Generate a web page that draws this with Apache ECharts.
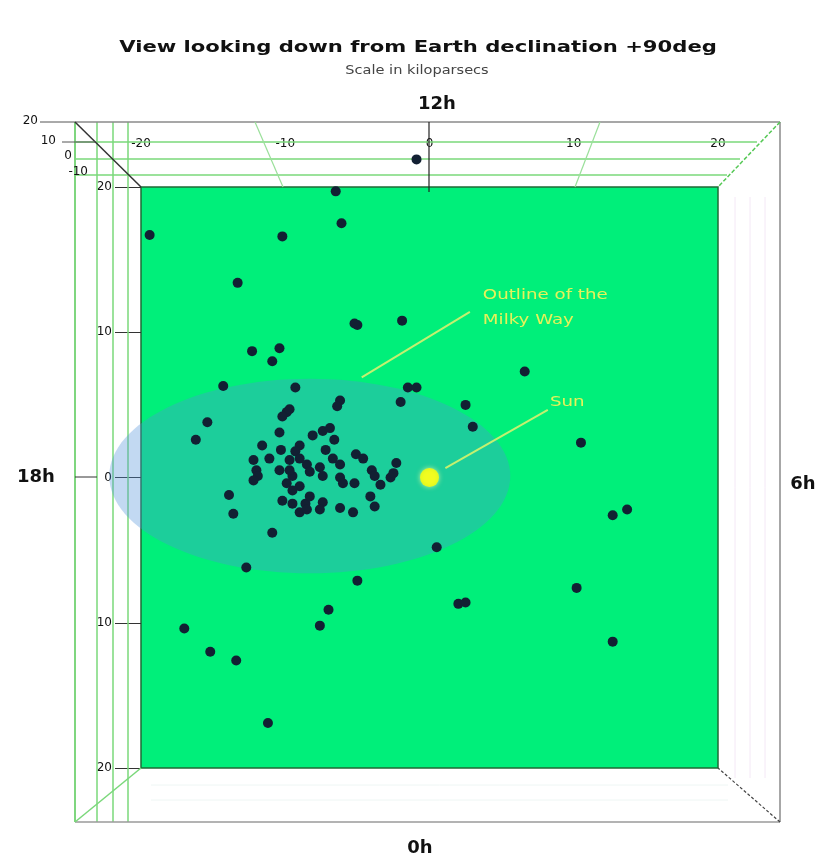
<!DOCTYPE html>
<html>
<head>
<meta charset="utf-8">
<script src="https://cdn.jsdelivr.net/npm/echarts@6/dist/echarts.min.js"></script>
<style>html,body{margin:0;padding:0;background:#fff}#c{width:834px;height:868px}</style>
</head>
<body>
<div id="c"></div>
<script>
// ---- data (kiloparsecs) ----
const outerClusters = [
  [-19.4,16.7],[-10.2,16.6],[-6.5,19.7],[-6.1,17.5],[-0.9,21.9],[-13.3,13.4],[-5.0,10.5],[-5.2,10.6],
  [-1.9,10.8],[-12.3,8.7],[-10.4,8.9],[-10.9,8.0],[-1.5,6.2],[-0.9,6.2],[-2.0,5.2],[6.6,7.3],
  [-14.3,6.3],[-9.3,6.2],[2.5,5.0],[3.0,3.5],[10.5,2.4],[-15.4,3.8],[-16.2,2.6],[12.7,-2.6],
  [13.7,-2.2],[0.5,-4.8],[-12.7,-6.2],[-5.0,-7.1],[10.2,-7.6],[-7.0,-9.1],[-7.6,-10.2],[2.0,-8.7],
  [2.5,-8.6],[-17.0,-10.4],[-15.2,-12.0],[-13.4,-12.6],[12.7,-11.3],[-11.2,-16.9]
];
const coreClusters = [
  [-9.9,4.5],[-9.7,4.7],[-10.2,4.2],[-6.2,5.3],[-6.4,4.9],[-10.4,3.1],[-8.1,2.9],[-7.4,3.2],
  [-6.9,3.4],[-6.6,2.6],[-11.6,2.2],[-10.3,1.9],[-9.0,2.2],[-9.3,1.8],[-7.2,1.9],[-12.2,1.2],
  [-11.1,1.3],[-9.7,1.2],[-8.5,0.9],[-9.0,1.3],[-6.7,1.3],[-6.2,0.9],[-5.1,1.6],[-4.6,1.3],
  [-4.0,0.5],[-2.3,1.0],[-12.0,0.5],[-11.9,0.1],[-10.4,0.5],[-9.5,0.1],[-9.7,0.5],[-8.3,0.4],
  [-7.6,0.7],[-7.4,0.1],[-6.2,0.0],[-6.0,-0.4],[-5.2,-0.4],[-3.8,0.1],[-3.4,-0.5],[-2.7,0.0],
  [-2.5,0.3],[-12.2,-0.2],[-9.9,-0.4],[-9.0,-0.6],[-9.5,-0.9],[-13.9,-1.2],[-10.2,-1.6],[-9.5,-1.8],
  [-8.6,-1.8],[-8.3,-1.3],[-7.4,-1.7],[-7.6,-2.2],[-6.2,-2.1],[-5.3,-2.4],[-4.1,-1.3],[-3.8,-2.0],
  [-13.6,-2.5],[-9.0,-2.4],[-8.5,-2.2],[-10.9,-3.8]
];
const sunPos = [0, 0];
const galaxyOutline = [-8.3, 0.1, 13.9, 6.7]; // centre x, centre y, semi-axis x, semi-axis y
const sunLeader = [[1.1, 0.65], [8.2, 4.65]];
const galaxyLeader = [[-4.7, 6.9], [2.8, 11.4]];
const sunLabelPos = [8.35, 5.15];
const galaxyLabelPos = [3.7, 11.7];
const axisMin = -20, axisMax = 20, axisStep = 10;
const zTickLabels = ['20', '10', '0', '-10'];

// ---- chart ----
const chart = echarts.init(document.getElementById('c'));
const FONT = 'DejaVu Sans';
const GL = 141, GR = 718, GT = 187, GB = 768;
const OL = 75, OR = 780, OT = 122, OB = 822;

function line(x1,y1,x2,y2,color,w,dash){
  return {type:'line', silent:true, z:1, shape:{x1,y1,x2,y2},
    style:{stroke:color, lineWidth:w||1, lineDash:dash||null}};
}
function text(x,y,t,opts,sx){
  return {type:'text', silent:true, z:50, x, y, scaleX:sx||1,
    style:Object.assign({text:t, fill:'#111', font:'13px "'+FONT+'"', textAlign:'center', textVerticalAlign:'middle'}, opts||{})};
}

const g = [];
// left wall lines
[97,113,128].forEach(x=>g.push(line(x,OT,x,OB,'#7ad87a',1.5)));
g.push(line(OL,OT,OL,OB,'#55c855',1.5));
// top wall lines
[[142,757],[159,740],[175,727]].forEach(([y,x2])=>g.push(line(OL,y,x2,y,'#7ad87a',1.5)));
// right / bottom wall faint lines
[735,750,765].forEach(x=>g.push(line(x,GT+10,x,GB+10,'#f4e8f6',1)));
[785,800].forEach(y=>g.push(line(GL+10,y,GR+10,y,'#eef6f4',1)));
// outer box
g.push(line(OL,OT,OR,OT,'#8a8a8a',1.5));
g.push(line(OR,OT,OR,OB,'#8a8a8a',1.5));
g.push(line(OL,OB,OR,OB,'#9a9a9a',1.5));
// diagonals
g.push(line(OL,OT,GL,GT,'#333',1.5));
g.push(line(OR,OT,GR,GT,'#55c855',1.5,[4,2]));
g.push(line(OL,OB,GL,GB,'#7ad87a',1.5));
g.push(line(OR,OB,GR,GB,'#444',1.2,[3,2]));
// top axis tick marks (perspective)
g.push(line(429,OT,429,GT+5,'#222',1.2));
g.push(line(255,OT,283,GT,'#9ae09a',1.2));
g.push(line(600,OT,575,GT,'#9ae09a',1.2));
g.push(line(OL,477,97,477,'#333',1));
// z axis tick marks and labels
g.push(line(40,OT,OL,OT,'#555',1));
g.push(line(62,142,95,142,'#555',1));
zTickLabels.forEach((t,i)=>{
  const pos = [[38,121],[56,141],[72,156],[88,172]][i];
  g.push(text(pos[0],pos[1],t,{textAlign:'right', font:'12px "'+FONT+'"'}));
});
// titles
g.push(text(418,48,'View looking down from Earth declination +90deg',{font:'bold 16px "'+FONT+'"'},1.32));
g.push(text(417,71,'Scale in kiloparsecs',{font:'13px "'+FONT+'"', fill:'#444'},1.12));
g.push(text(437,104,'12h',{font:'bold 18px "'+FONT+'"'}));
g.push(text(36,477,'18h',{font:'bold 18px "'+FONT+'"'}));
g.push(text(803,484,'6h',{font:'bold 18px "'+FONT+'"'}));
g.push(text(420,848,'0h',{font:'bold 18px "'+FONT+'"'}));

chart.setOption({
  animation:false,
  backgroundColor:'#ffffff',
  graphic:g,
  grid:{left:GL, right:834-GR, top:GT, bottom:868-GB, show:true,
    backgroundColor:'#00ef7a', borderColor:'#1f6a36', borderWidth:1.5},
  xAxis:[
    {type:'value', min:axisMin, max:axisMax, interval:axisStep, position:'bottom',
     axisLine:{show:false, onZero:false}, axisTick:{show:false}, axisLabel:{show:false}, splitLine:{show:false}},
    {type:'value', min:axisMin, max:axisMax, interval:axisStep, position:'top', offset:35,
     axisLine:{show:false, onZero:false}, axisTick:{show:false}, splitLine:{show:false},
     axisLabel:{margin:2, fontFamily:FONT, fontSize:12, color:'#111'}}
  ],
  yAxis:[
    {type:'value', min:axisMin, max:axisMax, interval:axisStep, position:'left',
     axisLine:{show:false, onZero:false}, splitLine:{show:false},
     axisTick:{show:true, length:26, lineStyle:{color:'#333', width:1}},
     axisLabel:{margin:29, fontFamily:FONT, fontSize:12, color:'#111', formatter:v=>String(Math.abs(v))}}
  ],
  series:[
    {type:'custom', name:'Outline of the Milky Way', coordinateSystem:'cartesian2d', clip:false, z:2,
     data:[galaxyOutline],
     renderItem:(params, api)=>{
       const c = api.coord([api.value(0), api.value(1)]);
       const s = api.size([api.value(2), api.value(3)]);
       return {type:'ellipse', shape:{cx:c[0], cy:c[1], rx:s[0], ry:s[1]},
         style:{fill:'rgba(80,146,217,0.35)'}};
     }},
    {type:'lines', coordinateSystem:'cartesian2d', z:3, silent:true,
     lineStyle:{color:'#c4f070', width:2, opacity:1},
     data:[{coords:sunLeader},{coords:galaxyLeader}]},
    {type:'scatter', name:'Globular clusters', data:outerClusters.concat(coreClusters), clip:false, z:4,
     symbolSize:10, itemStyle:{color:'#122033', opacity:1}},
    {type:'scatter', name:'Sun', data:[sunPos], z:5, symbolSize:19,
     itemStyle:{color:'#ffff00', shadowBlur:5, shadowColor:'rgba(255,255,160,0.9)'}}
  ]
});

// annotation texts anchored at data positions
const sp = chart.convertToPixel({gridIndex:0}, sunLabelPos);
const gp = chart.convertToPixel({gridIndex:0}, galaxyLabelPos);
const lab = {textAlign:'left', font:'14px "'+FONT+'"', fill:'#e6f25a'};
g.push(text(sp[0], sp[1], 'Sun', lab, 1.3));
g.push(text(gp[0], gp[1]-12, 'Outline of the', lab, 1.3));
g.push(text(gp[0], gp[1]+13, 'Milky Way', lab, 1.3));
chart.setOption({graphic:g}, {replaceMerge:['graphic']});
</script>
</body>
</html>
